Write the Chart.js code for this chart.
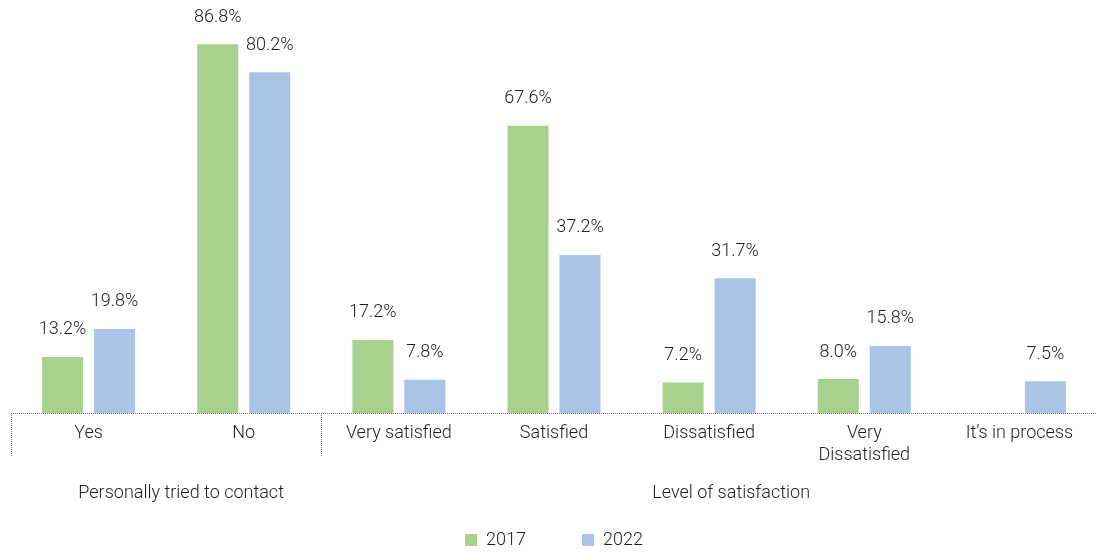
<!DOCTYPE html>
<html>
<head>
<meta charset="utf-8">
<script src="https://cdn.jsdelivr.net/npm/chart.js@4/dist/chart.umd.min.js"></script>
<style>
  html, body { margin: 0; padding: 0; background: #fff; }
  #wrap { width: 1097px; height: 552px; position: relative; }
</style>
</head>
<body>
<div id="wrap"><canvas id="chart"></canvas></div>
<script>
// Contact attempts and satisfaction, 2017 vs 2022 (percent).
const categories = ["Yes", "No", "Very satisfied", "Satisfied", "Dissatisfied", ["Very", "Dissatisfied"], "It\u2019s in process"];
const values2017 = [13.2, 86.8, 17.2, 67.6, 7.2, 8.0, null];
const values2022 = [19.8, 80.2, 7.8, 37.2, 31.7, 15.8, 7.5];
const seriesNames = ["2017", "2022"];
// Category groups: [first index, last index, title]
const groups = [
    [0, 1, "Personally tried to contact"],
    [2, 6, "Level of satisfaction"],
];

const FONT = "Roboto, 'Liberation Sans', sans-serif";
const TEXT = "#1e1e1e";
const AXIS = "#c4457a";

// Value labels above each bar.
const valueLabels = {
    id: "valueLabels",
    afterDatasetsDraw(chart) {
        const ctx = chart.ctx;
        ctx.save();
        ctx.font = "300 18px " + FONT;
        ctx.fillStyle = TEXT;
        ctx.textAlign = "center";
        ctx.textBaseline = "middle";
        chart.data.datasets.forEach((ds, i) => {
            const meta = chart.getDatasetMeta(i);
            meta.data.forEach((bar, j) => {
                const v = ds.data[j];
                if (v == null) return;
                ctx.fillText(v.toFixed(1) + "%", bar.x, bar.y - 27);
            });
        });
        ctx.restore();
    },
};

// Dotted baseline, group separators and group titles.
const groupAxis = {
    id: "groupAxis",
    afterDraw(chart) {
        const ctx = chart.ctx;
        const x = chart.scales.x;
        const area = chart.chartArea;
        const step = x.width / categories.length;
        const y0 = Math.round(area.bottom);
        ctx.save();
        ctx.fillStyle = AXIS;
        // 1px dots every 2px, snapped to whole pixels so they stay crisp
        for (let px = Math.round(area.left); px < area.right; px += 2) {
            ctx.fillRect(px, y0, 1, 1);
        }
        groups.forEach(([a]) => {
            const sx = Math.round(x.getPixelForValue(a) - step / 2);
            for (let py = y0 + 2; py < y0 + 44; py += 2) {
                ctx.fillRect(sx, py, 1, 1);
            }
        });
        ctx.font = "300 18px " + FONT;
        ctx.fillStyle = TEXT;
        ctx.textAlign = "center";
        ctx.textBaseline = "middle";
        const nudge = [15, 22];
        groups.forEach(([a, b, title], k) => {
            const cx = (x.getPixelForValue(a) + x.getPixelForValue(b)) / 2 + nudge[k];
            ctx.fillText(title, cx, y0 + 80);
        });
        ctx.restore();
    },
};

new Chart(document.getElementById("chart"), {
    type: "bar",
    data: {
        labels: categories,
        datasets: [
            {
                label: seriesNames[0],
                data: values2017,
                backgroundColor: "#a9d18e",
                categoryPercentage: 0.67,
                barPercentage: 0.79,
            },
            {
                label: seriesNames[1],
                data: values2022,
                backgroundColor: "#aac4e8",
                categoryPercentage: 0.67,
                barPercentage: 0.79,
            },
        ],
    },
    options: {
        responsive: true,
        maintainAspectRatio: false,
        animation: false,
        layout: { padding: { left: 11, right: 0, top: 1, bottom: -7 } },
        plugins: {
            legend: {
                position: "bottom",
                labels: {
                    color: TEXT,
                    font: { family: FONT, size: 18, weight: 300 },
                    boxWidth: 12,
                    boxHeight: 12,
                    padding: 56,
                },
            },
            tooltip: { enabled: false },
        },
        scales: {
            x: {
                grid: { display: false, drawTicks: false },
                border: { display: false },
                ticks: {
                    color: TEXT,
                    font: { family: FONT, size: 18, weight: 300, lineHeight: 1.2 },
                    padding: 10,
                    maxRotation: 0,
                    autoSkip: false,
                },
                afterFit(scale) { scale.height = 62; },
            },
            y: {
                display: false,
                min: 0,
                max: 97,
            },
        },
    },
    plugins: [valueLabels, groupAxis],
});
</script>
</body>
</html>
